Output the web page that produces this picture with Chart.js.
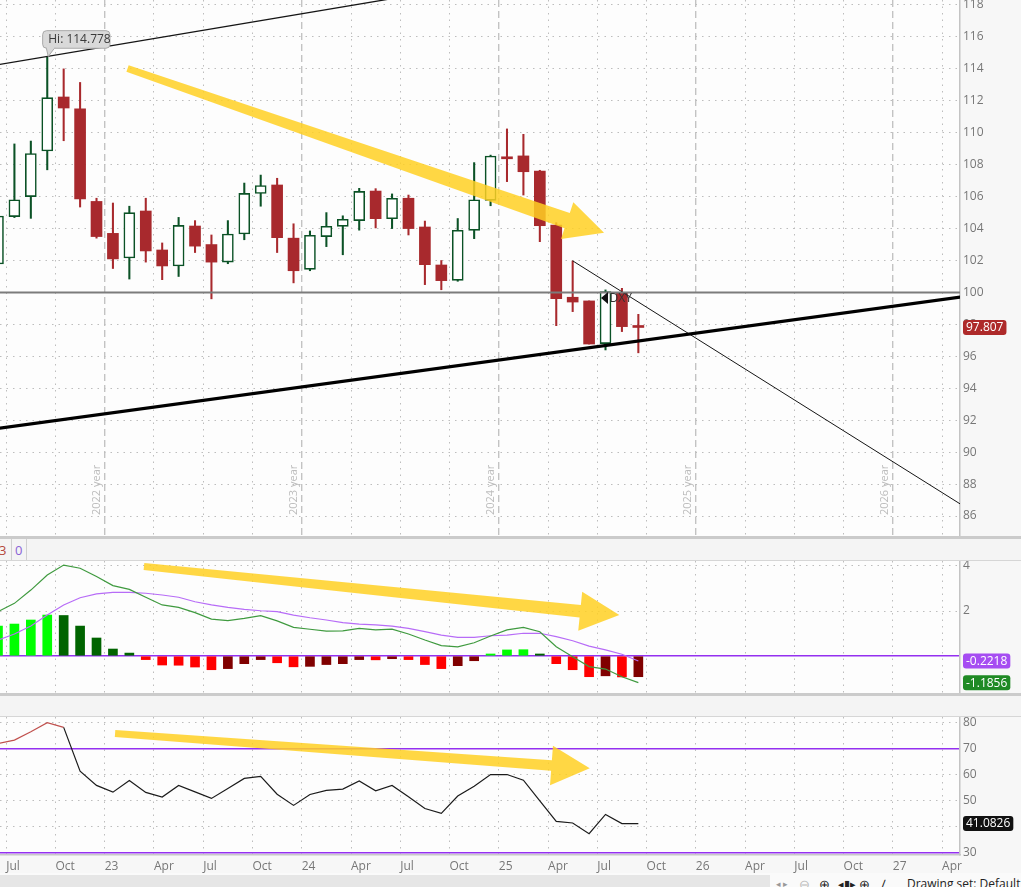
<!DOCTYPE html>
<html>
<head>
<meta charset="utf-8">
<title>DXY monthly</title>
<script src="https://cdn.jsdelivr.net/npm/chart.js@4.4.1/dist/chart.umd.min.js"></script>
<style>
  html, body { margin: 0; padding: 0; }
  body { width: 1021px; height: 887px; position: relative; overflow: hidden; background: #f7f7f7; font-family: "Open Sans", "Noto Sans", sans-serif; }
  canvas { position: absolute; left: 0; }
  .strip { position: absolute; left: 0; width: 1021px; background: #f4f4f4; box-sizing: border-box; }
  .strip span { position: absolute; top: 2px; font-size: 13px; }
  .sep { position: absolute; top: 0; width: 1px; height: 100%; background: #d0d0d0; }
  #status { position: absolute; left: 0; top: 873px; width: 1021px; height: 14px; background: #fafafa; overflow: hidden; }
  #status span { position: absolute; top: 3px; font-size: 12px; line-height: 16px; color: #222; white-space: nowrap; }
</style>
</head>
<body>
<canvas id="priceChart" width="1021" height="536" style="top:0"></canvas>
<div class="strip" style="top:536px;height:25px;border-top:3px solid #cbcbcb;border-bottom:1px solid #d6d6d6;">
  <span style="left:-1px;color:#b4473b">3</span>
  <div class="sep" style="left:11px"></div>
  <span style="left:15px;color:#8a63d6">0</span>
  <div class="sep" style="left:26px"></div>
</div>
<canvas id="macdChart" width="1021" height="132" style="top:561px"></canvas>
<div class="strip" style="top:693px;height:24px;border-top:3px solid #cbcbcb;border-bottom:1px solid #d6d6d6;"></div>
<canvas id="rsiChart" width="1021" height="156" style="top:717px"></canvas>
<div id="status">
  <div style="position:absolute;left:0;top:2px;width:770px;height:12px;background:#e6e6e6"></div>
  <span style="left:776px;color:#999;font-size:9px">◂ ▸</span>
  <span style="left:799px;color:#bbb;font-size:13px">⊖</span>
  <span style="left:819px;font-size:13px">⊕</span>
  <span style="left:838px;font-size:11px">◂▮▸</span>
  <span style="left:859px;font-size:13px">⊕</span>
  <span style="left:881px;font-size:13px">∕</span>
  <span style="left:907px">Drawing set: Default</span>
</div>

<script>
// monthly bars, Jun 2022 .. Sep 2025
const months = ['2022-06','2022-07','2022-08','2022-09','2022-10','2022-11','2022-12',
  '2023-01','2023-02','2023-03','2023-04','2023-05','2023-06','2023-07','2023-08','2023-09','2023-10','2023-11','2023-12',
  '2024-01','2024-02','2024-03','2024-04','2024-05','2024-06','2024-07','2024-08','2024-09','2024-10','2024-11','2024-12',
  '2025-01','2025-02','2025-03','2025-04','2025-05','2025-06','2025-07','2025-08','2025-09'];

const opens  = [101.78, 104.75, 106.00, 108.86, 112.24, 111.50, 105.70, 103.70, 102.16, 105.10, 102.66, 101.66, 104.16,
  103.00, 101.90, 103.66, 106.20, 106.73, 103.40, 101.45, 103.50, 104.14, 104.50, 106.35, 104.62, 105.90, 104.10,
  101.72, 100.76, 103.89, 105.77, 108.49, 108.55, 107.60, 104.22, 99.70, 99.47, 96.80, 100.00, 97.85];
const highs  = [105.79, 109.30, 109.48, 114.778, 114.00, 113.15, 105.90, 105.60, 105.40, 105.90, 103.10, 104.70, 104.50,
  103.60, 104.50, 106.85, 107.35, 107.15, 104.30, 103.85, 105.00, 104.80, 106.52, 106.50, 106.17, 106.10, 104.47,
  102.00, 104.63, 108.13, 108.60, 110.24, 109.90, 107.65, 104.37, 101.97, 99.47, 100.16, 100.26, 98.63];
const lows   = [101.29, 104.69, 104.64, 107.68, 109.50, 105.35, 103.40, 101.50, 100.84, 101.90, 100.80, 101.00, 102.50,
  99.60, 101.80, 103.30, 105.40, 102.50, 100.60, 101.36, 102.87, 102.36, 103.90, 104.04, 104.00, 103.60, 100.49,
  100.17, 100.70, 103.37, 105.43, 106.94, 106.10, 103.18, 97.92, 98.80, 96.77, 96.40, 97.55, 96.22];
const closes = [104.79, 105.80, 108.70, 112.20, 111.55, 105.85, 103.50, 102.10, 105.00, 102.60, 101.66, 104.20, 102.90,
  101.90, 103.66, 106.20, 106.70, 103.43, 101.36, 103.58, 104.14, 104.58, 106.33, 104.62, 105.90, 104.00, 101.74,
  100.74, 103.89, 105.80, 108.54, 108.37, 107.56, 104.18, 99.61, 99.40, 96.77, 100.05, 97.86, 97.807];

const macdLine   = [1.97, 2.34, 2.93, 3.60, 4.04, 3.90, 3.53, 3.13, 2.96, 2.61, 2.27, 2.16, 1.93, 1.64, 1.57, 1.67, 1.79,
  1.56, 1.27, 1.19, 1.11, 1.12, 1.23, 1.16, 1.19, 0.98, 0.71, 0.46, 0.41, 0.59, 0.89, 1.16, 1.27, 1.08, 0.41, -0.03,
  -0.47, -0.58, -0.92, -1.1856];
const signalLine = [0.71, 0.98, 1.33, 1.82, 2.27, 2.59, 2.76, 2.83, 2.83, 2.79, 2.71, 2.61, 2.41, 2.27, 2.16, 2.07, 2.01,
  1.97, 1.82, 1.70, 1.60, 1.48, 1.42, 1.38, 1.33, 1.23, 1.08, 0.93, 0.83, 0.83, 0.90, 0.93, 1.01, 1.01, 0.86, 0.68,
  0.44, 0.27, 0.08, -0.2218];
const macdHist   = [1.33, 1.42, 1.60, 1.82, 1.80, 1.33, 0.80, 0.31, 0.13, -0.16, -0.40, -0.41, -0.49, -0.61, -0.56, -0.34,
  -0.16, -0.30, -0.48, -0.46, -0.38, -0.34, -0.16, -0.17, -0.12, -0.16, -0.38, -0.56, -0.43, -0.21, 0.09, 0.27, 0.28,
  0.09, -0.34, -0.61, -0.92, -0.88, -0.93, -0.92];

const rsiValues = [72.0, 73.3, 76.5, 80.0, 78.2, 61.3, 55.8, 53.2, 57.7, 53.1, 51.3, 55.8, 53.3, 50.8, 54.6, 58.5, 59.3,
  52.4, 48.1, 52.3, 53.9, 54.4, 57.5, 53.7, 55.8, 51.4, 46.9, 45.0, 51.7, 55.5, 60.0, 60.0, 57.8, 49.8, 41.9, 41.3,
  37.2, 44.6, 41.1, 41.0826];

const quarterStarts = ['2022-07','2022-10','2023-01','2023-04','2023-07','2023-10','2024-01','2024-04','2024-07','2024-10',
  '2025-01','2025-04','2025-07','2025-10','2026-01','2026-04','2026-07','2026-10','2027-01','2027-04'];
const xTickLabels = ['Jul','Oct','23','Apr','Jul','Oct','24','Apr','Jul','Oct','25','Apr','Jul','Oct','26','Apr','Jul','Oct','27','Apr'];
const yearLines = [['2023-01','2022 year'], ['2024-01','2023 year'], ['2025-01','2024 year'], ['2026-01','2025 year'], ['2027-01','2026 year']];

const priceTicks = [86, 88, 90, 92, 94, 96, 98, 100, 102, 104, 106, 108, 110, 112, 114, 116, 118];
const macdTicks = [0, 2, 4];
const rsiTicks = [30, 40, 50, 60, 70, 80];

// drawings, in (month index from Jan 2022, value)
const upperTrend   = [{x: 5, y: 114.26}, {x: 29, y: 118.4}];
const lowerTrend   = [{x: 5, y: 91.49}, {x: 64, y: 99.77}];
const fallingTrend = [{x: 40, y: 101.98}, {x: 64, y: 86.5}];
const level100     = [{x: 5, y: 100}, {x: 64, y: 100}];
const hiLabel = {x: 8, y: 114.778};
const dxyLabel = {x: 42, y: 99.65};
const priceArrow = {start: {x: 12.89, y: 114.02}, headA: {x: 40.04, y: 105.65}, tip: {x: 41.91, y: 103.74}, headB: {x: 39.29, y: 103.35}};
const macdArrow  = {start: {x: 13.89, y: 3.98}, headA: {x: 40.58, y: 2.86}, tip: {x: 42.84, y: 1.82}, headB: {x: 40.34, y: 1.12}};
const rsiArrow   = {start: {x: 12.13, y: 75.8}, headA: {x: 38.80, y: 71.1}, tip: {x: 41.04, y: 62.4}, headB: {x: 38.62, y: 55.9}};

// ---------------------------------------------------------------
const monthIndex = s => { const [y, m] = s.split('-').map(Number); return (y - 2022) * 12 + (m - 1); };
const xs = months.map(monthIndex);
const quarterPos = quarterStarts.map(s => monthIndex(s) - 0.5);
const yearPos = yearLines.map(([s]) => monthIndex(s) - 0.5);
const X_MIN = 5.122, X_MAX = 63.59;
const FONT = '"Open Sans", "Noto Sans", sans-serif';
const GRID = '#bdbdbd';
const DOT = [1.5, 5];
const UP = '#0b5226', DOWN = '#a8292d';
const PURPLE = '#9430f0';

Chart.defaults.font.family = FONT;
Chart.defaults.font.size = 12;
Chart.defaults.color = '#777';

function rrect(ctx, x, y, w, h, r) {
  ctx.beginPath();
  ctx.moveTo(x + r, y);
  ctx.lineTo(x + w - r, y); ctx.quadraticCurveTo(x + w, y, x + w, y + r);
  ctx.lineTo(x + w, y + h - r); ctx.quadraticCurveTo(x + w, y + h, x + w - r, y + h);
  ctx.lineTo(x + r, y + h); ctx.quadraticCurveTo(x, y + h, x, y + h - r);
  ctx.lineTo(x, y + r); ctx.quadraticCurveTo(x, y, x + r, y);
  ctx.closePath();
}

function badge(chart, value, text, bg) {
  const ctx = chart.ctx;
  const y = chart.scales.y.getPixelForValue(value);
  ctx.save();
  ctx.font = '12px ' + FONT;
  const w = ctx.measureText(text).width + 6;
  rrect(ctx, 963, y - 7.5, w, 15, 3);
  ctx.fillStyle = bg;
  ctx.fill();
  ctx.fillStyle = '#fff';
  ctx.textBaseline = 'middle';
  ctx.fillText(text, 966, y + 0.5);
  ctx.restore();
}

function drawArrow(chart, a, tail, neck) {
  const {ctx, scales: {x, y}} = chart;
  const P = p => ({x: x.getPixelForValue(p.x), y: y.getPixelForValue(p.y)});
  const s = P(a.start), t = P(a.tip), h1 = P(a.headA), h2 = P(a.headB);
  const b = {x: (h1.x + h2.x) / 2, y: (h1.y + h2.y) / 2};
  let dx = b.x - s.x, dy = b.y - s.y;
  const len = Math.hypot(dx, dy); dx /= len; dy /= len;
  const nx = -dy, ny = dx;
  const plus = (h1.x - b.x) * nx + (h1.y - b.y) * ny > 0;
  const hp = plus ? h1 : h2, hm = plus ? h2 : h1;
  ctx.save();
  ctx.beginPath();
  ctx.moveTo(s.x + nx * tail / 2, s.y + ny * tail / 2);
  ctx.lineTo(b.x + nx * neck / 2, b.y + ny * neck / 2);
  ctx.lineTo(hp.x, hp.y);
  ctx.lineTo(t.x, t.y);
  ctx.lineTo(hm.x, hm.y);
  ctx.lineTo(b.x - nx * neck / 2, b.y - ny * neck / 2);
  ctx.lineTo(s.x - nx * tail / 2, s.y - ny * tail / 2);
  ctx.closePath();
  ctx.fillStyle = 'rgba(255, 208, 35, 0.85)';
  ctx.fill();
  ctx.restore();
}

const background = {
  id: 'background',
  beforeDraw(chart) {
    const {ctx, chartArea: a} = chart;
    ctx.save();
    ctx.fillStyle = '#f7f7f7';
    ctx.fillRect(0, 0, chart.width, chart.height);
    ctx.fillStyle = '#fdfdfd';
    ctx.fillRect(a.left, a.top, a.right - a.left, a.bottom - a.top);
    ctx.restore();
  }
};

function xAxis(opts) {
  return Object.assign({
    type: 'linear', min: X_MIN, max: X_MAX, offset: false,
    afterBuildTicks: s => { s.ticks = quarterPos.map(v => ({value: v})); },
    afterFit: s => { s.height = 0; s.paddingLeft = 0; s.paddingRight = 0; },
    ticks: {display: false},
    grid: {color: GRID, lineWidth: 1, drawTicks: false, offset: false},
    border: {display: false, dash: DOT}
  }, opts);
}

function yAxis(ticks, min, max, opts) {
  return Object.assign({
    position: 'right', min, max,
    afterBuildTicks: s => { s.ticks = ticks.map(v => ({value: v})); },
    afterFit: s => { s.width = 61; s.paddingTop = 0; s.paddingBottom = 0; },
    ticks: {padding: 3, color: '#777', font: {size: 12}},
    grid: {color: GRID, lineWidth: 1, drawTicks: false},
    border: {display: true, color: '#c4c4c4', width: 1.5, dash: DOT}
  }, opts);
}

const baseOptions = {
  responsive: false, animation: false, events: [],
  layout: {padding: 0},
  plugins: {legend: {display: false}, tooltip: {enabled: false}}
};

// ---------------- price ----------------
const isUp = closes.map((c, k) => c >= opens[k]);
const priceExtras = {
  id: 'priceExtras',
  afterDraw(chart) {
    const {ctx, chartArea, scales: {x, y}} = chart;
    ctx.save();
    // year captions beside the dashed lines
    ctx.font = '11px ' + FONT;
    ctx.fillStyle = '#bcbcbc';
    yearLines.forEach(([s, text]) => {
      const px = x.getPixelForValue(monthIndex(s) - 0.5);
      ctx.save();
      ctx.translate(px - 2, chartArea.bottom - 21);
      ctx.rotate(-Math.PI / 2);
      ctx.textBaseline = 'bottom';
      ctx.fillText(text, 0, 0);
      ctx.restore();
    });
    drawArrow(chart, priceArrow, 7, 16);
    // high callout
    const hx = x.getPixelForValue(hiLabel.x), hy = y.getPixelForValue(hiLabel.y);
    const bx = hx - 4.6, by = hy - 25.8, bw = 67.3, bh = 17.6;
    ctx.fillStyle = '#d9d9d9';
    ctx.strokeStyle = '#a9a9a9';
    ctx.lineWidth = 1;
    rrect(ctx, bx, by, bw, bh, 4);
    ctx.fill(); ctx.stroke();
    ctx.beginPath();
    ctx.moveTo(hx - 1, by + bh - 0.5); ctx.lineTo(hx + 1, hy); ctx.lineTo(hx + 7.5, by + bh - 0.5);
    ctx.fill(); ctx.stroke();
    ctx.fillRect(hx - 0.5, by + bh - 2, 7.5, 2.5);
    ctx.fillStyle = '#3a3a3a';
    ctx.font = '12px ' + FONT;
    ctx.textBaseline = 'middle';
    ctx.fillText('Hi: ' + hiLabel.y, hx + 1, by + bh / 2 + 0.5);
    // DXY marker
    const dx = x.getPixelForValue(dxyLabel.x), dy = y.getPixelForValue(dxyLabel.y);
    ctx.fillStyle = '#111';
    ctx.beginPath();
    ctx.moveTo(dx - 4.5, dy); ctx.lineTo(dx + 2.5, dy - 6); ctx.lineTo(dx + 2.5, dy + 6); ctx.closePath();
    ctx.fill();
    ctx.fillStyle = '#333';
    ctx.fillText('DXY', dx + 4, dy + 1);
    ctx.restore();
    badge(chart, closes[closes.length - 1], String(closes[closes.length - 1]), '#ae2a2a');
  }
};

new Chart(document.getElementById('priceChart'), {
  type: 'bar',
  data: {
    datasets: [
      {type: 'line', data: level100, borderColor: '#7c7c7c', borderWidth: 2, pointRadius: 0, order: 1},
      {type: 'line', data: upperTrend, borderColor: '#151515', borderWidth: 1.3, pointRadius: 0, order: 1},
      {type: 'line', data: lowerTrend, borderColor: '#000', borderWidth: 3.2, pointRadius: 0, order: 1},
      {type: 'line', data: fallingTrend, borderColor: '#151515', borderWidth: 1, pointRadius: 0, order: 1},
      {
        data: xs.map((x, k) => ({x, y: [opens[k], closes[k]]})),
        backgroundColor: isUp.map(u => u ? '#ffffff' : DOWN),
        borderColor: isUp.map(u => u ? UP : DOWN),
        borderWidth: isUp.map(u => u ? 1.6 : 0),
        borderSkipped: false, barThickness: 11, minBarLength: 2, grouped: false, order: 2
      },
      {
        data: xs.map((x, k) => ({x, y: [lows[k], highs[k]]})),
        backgroundColor: isUp.map(u => u ? UP : DOWN),
        borderWidth: 0, barThickness: 1.4, grouped: false, order: 3
      }
    ]
  },
  options: Object.assign({}, baseOptions, {
    scales: {
      x: xAxis({
        grid: {
          color: c => (c.tick && yearPos.includes(c.tick.value)) ? '#c3c3c3' : GRID,
          lineWidth: c => (c.tick && yearPos.includes(c.tick.value)) ? 1.4 : 1,
          drawTicks: false, offset: false
        },
        border: {display: false, dash: c => (c.tick && yearPos.includes(c.tick.value)) ? [7, 4] : DOT}
      }),
      y: yAxis(priceTicks, 84.75, 118.313)
    }
  }),
  plugins: [background, priceExtras]
});

// ---------------- MACD ----------------
const histColors = macdHist.map((v, k) => {
  const prev = k > 0 ? macdHist[k - 1] : -Infinity;
  if (v >= 0) return v >= prev ? '#00ff00' : '#006400';
  return v < prev ? '#ff0000' : '#800000';
});
const macdExtras = {
  id: 'macdExtras',
  afterDraw(chart) {
    drawArrow(chart, macdArrow, 7, 12.5);
    badge(chart, signalLine[signalLine.length - 1], String(signalLine[signalLine.length - 1]), '#a64df2');
    badge(chart, macdLine[macdLine.length - 1], String(macdLine[macdLine.length - 1]), '#1f8a24');
  }
};
new Chart(document.getElementById('macdChart'), {
  type: 'bar',
  data: {
    datasets: [
      {type: 'line', data: xs.map((x, k) => ({x, y: macdLine[k]})), borderColor: '#3f9a3f', borderWidth: 1.2, pointRadius: 0, order: 1},
      {type: 'line', data: xs.map((x, k) => ({x, y: signalLine[k]})), borderColor: '#b76cf7', borderWidth: 1.2, pointRadius: 0, order: 1},
      {data: xs.map((x, k) => ({x, y: macdHist[k]})), backgroundColor: histColors, borderWidth: 0, barThickness: 9, grouped: false, order: 2}
    ]
  },
  options: Object.assign({}, baseOptions, {
    scales: {
      x: xAxis(),
      y: yAxis(macdTicks, -1.644, 4.222, {
        ticks: {padding: 3, color: '#777', font: {size: 12}, callback: v => v === 0 ? '' : String(v)},
        grid: {color: c => (c.tick && c.tick.value === 0) ? PURPLE : GRID, lineWidth: c => (c.tick && c.tick.value === 0) ? 1.5 : 1, drawTicks: false},
        border: {display: true, color: '#c4c4c4', width: 1.5, dash: c => (c.tick && c.tick.value === 0) ? [] : DOT}
      })
    }
  }),
  plugins: [background, macdExtras]
});

// ---------------- RSI ----------------
const rsiExtras = {
  id: 'rsiExtras',
  afterDraw(chart) {
    drawArrow(chart, rsiArrow, 7, 10.5);
    badge(chart, rsiValues[rsiValues.length - 1], String(rsiValues[rsiValues.length - 1]), '#111');
  }
};
const purpleLevel = c => c.tick && (c.tick.value === 70 || c.tick.value === 30);
new Chart(document.getElementById('rsiChart'), {
  type: 'line',
  data: {
    datasets: [{
      data: xs.map((x, k) => ({x, y: rsiValues[k]})),
      borderColor: '#1b1b1b', borderWidth: 1.2, pointRadius: 0,
      segment: {borderColor: c => (c.p0.parsed.y > 70 && c.p1.parsed.y > 70) ? '#c0504d' : '#1b1b1b'}
    }]
  },
  options: Object.assign({}, baseOptions, {
    scales: {
      x: xAxis({
        afterFit: s => { s.height = 18; s.paddingLeft = 0; s.paddingRight = 0; },
        ticks: {display: true, align: 'start', autoSkip: false, maxRotation: 0, minRotation: 0, padding: 4,
          color: '#777', font: {size: 12}, callback: (v, i) => xTickLabels[i]},
        border: {display: true, color: '#c8c8c8', width: 1.5, dash: DOT}
      }),
      y: yAxis(rsiTicks, 28.96, 82.2, {
        grid: {color: c => purpleLevel(c) ? PURPLE : GRID, lineWidth: c => purpleLevel(c) ? 1.5 : 1, drawTicks: false},
        border: {display: true, color: '#c4c4c4', width: 1.5, dash: c => purpleLevel(c) ? [] : DOT}
      })
    }
  }),
  plugins: [background, rsiExtras]
});
</script>
</body>
</html>
